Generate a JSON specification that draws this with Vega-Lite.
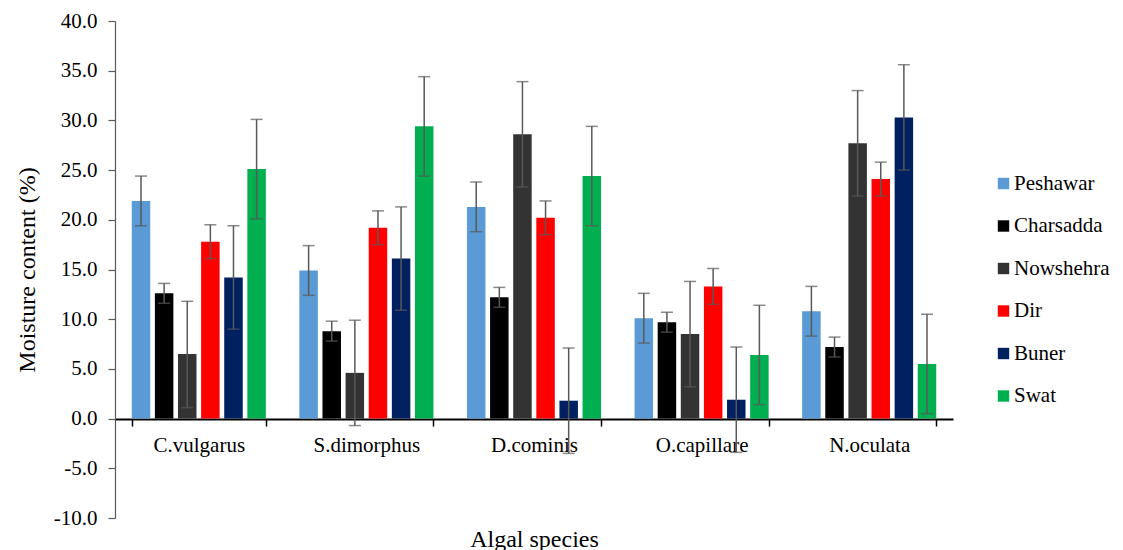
{
  "$schema": "https://vega.github.io/schema/vega-lite/v6.json",
  "width": 838,
  "height": 497,
  "autosize": {"type": "none"},
  "padding": {"left": 115, "top": 21, "right": 170, "bottom": 32},
  "background": "white",
  "config": {
    "view": {"stroke": null},
    "font": "Liberation Serif",
    "axis": {"grid": false, "labelFont": "Liberation Serif", "titleFont": "Liberation Serif", "labelColor": "black", "titleColor": "black", "titleFontWeight": "normal"},
    "legend": {"labelFont": "Liberation Serif", "titleFont": "Liberation Serif"}
  },
  "data": {
    "values": [
      {"species": "C.vulgarus", "region": "Peshawar", "value": 21.9, "lo": 19.4, "hi": 24.4},
      {"species": "C.vulgarus", "region": "Charsadda", "value": 12.6, "lo": 11.6, "hi": 13.6},
      {"species": "C.vulgarus", "region": "Nowshehra", "value": 6.5, "lo": 1.1, "hi": 11.8},
      {"species": "C.vulgarus", "region": "Dir", "value": 17.8, "lo": 16.1, "hi": 19.5},
      {"species": "C.vulgarus", "region": "Buner", "value": 14.2, "lo": 9.0, "hi": 19.4},
      {"species": "C.vulgarus", "region": "Swat", "value": 25.1, "lo": 20.1, "hi": 30.1},
      {"species": "S.dimorphus", "region": "Peshawar", "value": 14.9, "lo": 12.4, "hi": 17.4},
      {"species": "S.dimorphus", "region": "Charsadda", "value": 8.8, "lo": 7.8, "hi": 9.8},
      {"species": "S.dimorphus", "region": "Nowshehra", "value": 4.6, "lo": -0.7, "hi": 9.9},
      {"species": "S.dimorphus", "region": "Dir", "value": 19.2, "lo": 17.5, "hi": 20.9},
      {"species": "S.dimorphus", "region": "Buner", "value": 16.1, "lo": 10.9, "hi": 21.3},
      {"species": "S.dimorphus", "region": "Swat", "value": 29.4, "lo": 24.4, "hi": 34.4},
      {"species": "D.cominis", "region": "Peshawar", "value": 21.3, "lo": 18.8, "hi": 23.8},
      {"species": "D.cominis", "region": "Charsadda", "value": 12.2, "lo": 11.2, "hi": 13.2},
      {"species": "D.cominis", "region": "Nowshehra", "value": 28.6, "lo": 23.3, "hi": 33.9},
      {"species": "D.cominis", "region": "Dir", "value": 20.2, "lo": 18.5, "hi": 21.9},
      {"species": "D.cominis", "region": "Buner", "value": 1.8, "lo": -3.5, "hi": 7.1},
      {"species": "D.cominis", "region": "Swat", "value": 24.4, "lo": 19.4, "hi": 29.4},
      {"species": "O.capillare", "region": "Peshawar", "value": 10.1, "lo": 7.6, "hi": 12.6},
      {"species": "O.capillare", "region": "Charsadda", "value": 9.7, "lo": 8.7, "hi": 10.7},
      {"species": "O.capillare", "region": "Nowshehra", "value": 8.5, "lo": 3.2, "hi": 13.8},
      {"species": "O.capillare", "region": "Dir", "value": 13.3, "lo": 11.5, "hi": 15.1},
      {"species": "O.capillare", "region": "Buner", "value": 1.9, "lo": -3.4, "hi": 7.2},
      {"species": "O.capillare", "region": "Swat", "value": 6.4, "lo": 1.4, "hi": 11.4},
      {"species": "N.oculata", "region": "Peshawar", "value": 10.8, "lo": 8.3, "hi": 13.3},
      {"species": "N.oculata", "region": "Charsadda", "value": 7.2, "lo": 6.2, "hi": 8.2},
      {"species": "N.oculata", "region": "Nowshehra", "value": 27.7, "lo": 22.4, "hi": 33.0},
      {"species": "N.oculata", "region": "Dir", "value": 24.1, "lo": 22.4, "hi": 25.8},
      {"species": "N.oculata", "region": "Buner", "value": 30.3, "lo": 25.0, "hi": 35.6},
      {"species": "N.oculata", "region": "Swat", "value": 5.5, "lo": 0.5, "hi": 10.5}
    ]
  },
  "encoding": {
    "x": {
      "field": "species", "type": "nominal", "sort": null,
      "scale": {"paddingInner": 0.2, "paddingOuter": 0.1},
      "axis": {
        "orient": "bottom", "offset": -99, "labelAngle": 0,
        "title": "Algal species", "titleFontSize": 24, "titlePadding": 72,
        "labelFont": "Liberation Serif", "titleFont": "Liberation Serif",
        "labelFontSize": 21, "labelPadding": 8,
        "tickBand": "extent", "tickSize": 7, "tickColor": "black", "tickWidth": 1.5,
        "domainColor": "black", "domainWidth": 2
      }
    },
    "xOffset": {
      "field": "region", "type": "nominal", "sort": null,
      "scale": {"domain": ["Peshawar", "Charsadda", "Nowshehra", "Dir", "Buner", "Swat"], "paddingInner": 0.2, "paddingOuter": 0}
    }
  },
  "layer": [
    {
      "mark": {"type": "bar"},
      "encoding": {
        "y": {
          "field": "value", "type": "quantitative",
          "scale": {"domain": [-10, 40], "nice": false, "zero": false},
          "axis": {
            "values": [-10, -5, 0, 5, 10, 15, 20, 25, 30, 35, 40],
            "labelExpr": "replace(format(datum.value, '.1f'), '\u2212', '-')",
            "title": "Moisture content (%)",
            "labelFont": "Liberation Serif", "titleFont": "Liberation Serif",
            "titleFontSize": 24, "titlePadding": 14,
            "labelFontSize": 21, "labelPadding": 11,
            "tickSize": 7, "tickColor": "#595959", "tickWidth": 1.2,
            "domainColor": "#595959", "domainWidth": 1.2
          }
        },
        "color": {
          "field": "region", "type": "nominal", "sort": null,
          "scale": {
            "domain": ["Peshawar", "Charsadda", "Nowshehra", "Dir", "Buner", "Swat"],
            "range": ["#5B9BD5", "#000000", "#333333", "#FF0000", "#002060", "#00B050"]
          },
          "legend": {
            "orient": "none", "legendX": 878, "legendY": 152, "padding": 0,
            "title": null, "symbolType": "square", "symbolSize": 130,
            "symbolStrokeWidth": 0, "labelFontSize": 21, "labelFont": "Liberation Serif",
            "labelColor": "black", "rowPadding": 20.5, "labelOffset": 0
          }
        }
      }
    },
    {
      "mark": {"type": "rule", "color": "#595959", "strokeWidth": 1.5},
      "encoding": {
        "y": {"field": "lo", "type": "quantitative"},
        "y2": {"field": "hi"}
      }
    },
    {
      "mark": {"type": "tick", "color": "#595959", "thickness": 1.5, "size": 12},
      "encoding": {"y": {"field": "hi", "type": "quantitative"}}
    },
    {
      "mark": {"type": "tick", "color": "#595959", "thickness": 1.5, "size": 12},
      "encoding": {"y": {"field": "lo", "type": "quantitative"}}
    }
  ]
}
